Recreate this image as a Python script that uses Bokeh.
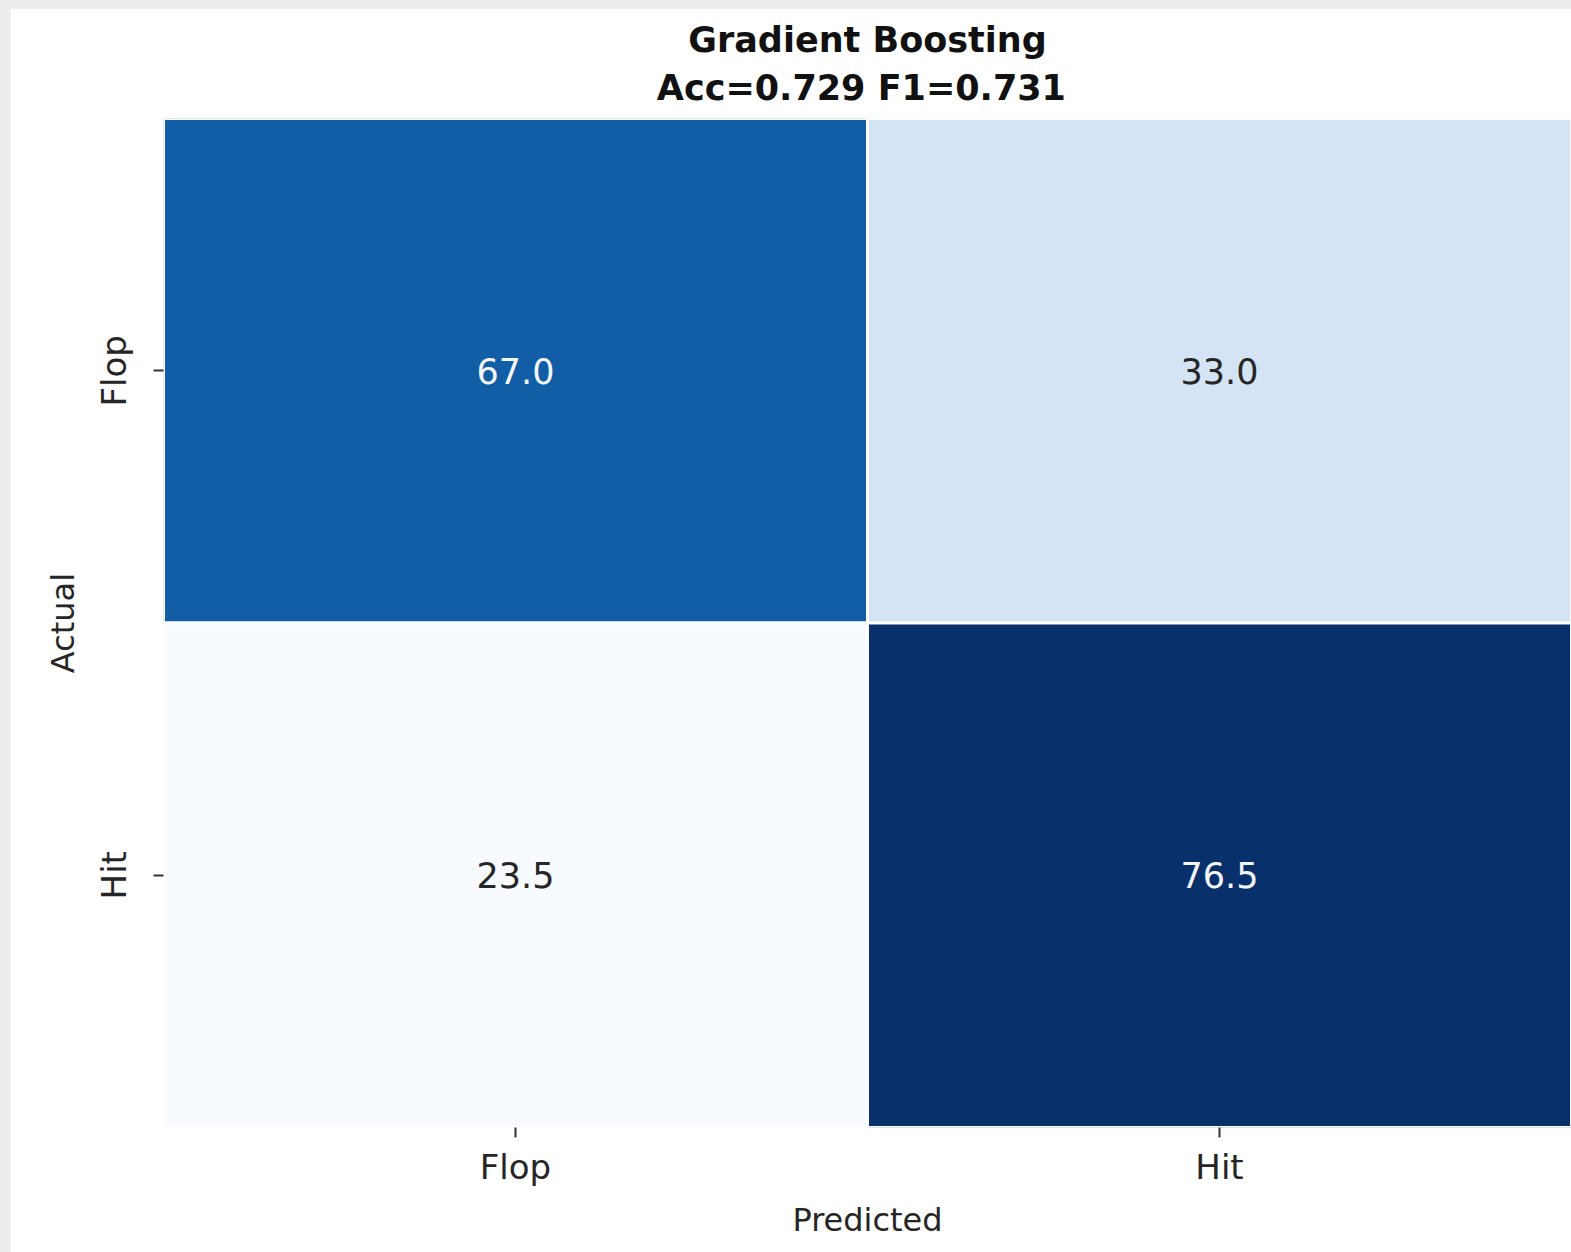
from bokeh.plotting import figure
from bokeh.models import ColumnDataSource, FactorRange, Title, Spacer
from bokeh.layouts import column, row
from bokeh.palettes import Blues256
from bokeh.transform import linear_cmap
from bokeh.core.properties import value
from bokeh.embed import file_html
from bokeh.resources import INLINE

# ---- data ----
classes = ["Flop", "Hit"]
actual = ["Flop", "Flop", "Hit", "Hit"]
predicted = ["Flop", "Hit", "Flop", "Hit"]
values = [67.0, 33.0, 23.5, 76.5]
title_line1 = "Gradient Boosting"
title_line2 = "Acc=0.729  F1=0.731"
x_label = "Predicted"
y_label = "Actual"

vmin, vmax = min(values), max(values)
labels = [f"{v:.1f}" for v in values]
text_colors = ["#f4f6fa" if (v - vmin) / (vmax - vmin) > 0.6 else "#262626" for v in values]

src = ColumnDataSource(dict(act=actual, pred=predicted, val=values,
                            label=labels, tcolor=text_colors))

FONT = "DejaVu Sans"

p = figure(width=1561, height=1244,
           x_range=FactorRange(factors=classes),
           y_range=FactorRange(factors=classes[::-1]),
           output_backend="svg", toolbar_location=None,
           min_border_left=153, min_border_right=0,
           min_border_top=110, min_border_bottom=125)

p.rect(x="pred", y="act", width=1, height=1, source=src,
       fill_color=linear_cmap("val", list(Blues256[::-1]), vmin, vmax),
       line_color="white", line_width=3)

p.text(x="pred", y="act", text="label", source=src,
       text_align="center", text_baseline="middle",
       text_font=value(FONT), text_font_size="35px", text_color="tcolor")

# titles (second line nearest the frame)
t2 = Title(text=title_line2, align="center", text_font=FONT,
           text_font_size="35px", text_font_style="bold", text_color="#111111",
           standoff=22)
t1 = Title(text=title_line1, align="center", text_font=FONT,
           text_font_size="35px", text_font_style="bold", text_color="#111111",
           standoff=0)
try:
    t1.standoff = -10
except ValueError:
    t1.standoff = 0
p.add_layout(t2, "above")
p.add_layout(t1, "above")

p.grid.visible = False
p.outline_line_color = None
p.background_fill_color = "white"
p.border_fill_color = "white"

for ax in (p.xaxis, p.yaxis):
    ax.axis_line_color = None
    ax.major_tick_out = 10
    ax.major_tick_in = 0
    ax.major_tick_line_color = "#333333"
    ax.major_tick_line_width = 2
    ax.minor_tick_line_color = None
    ax.major_label_text_font = FONT
    ax.major_label_text_font_size = "34px"
    ax.major_label_text_color = "#262626"
    ax.axis_label_text_font = FONT
    ax.axis_label_text_font_size = "32px"
    ax.axis_label_text_font_style = "normal"
    ax.axis_label_text_color = "#262626"

p.xaxis.axis_label = x_label
p.yaxis.axis_label = y_label
p.xaxis.major_label_standoff = 9
p.xaxis.axis_label_standoff = 11
p.yaxis.major_label_orientation = "vertical"
p.yaxis.major_label_standoff = 20
p.yaxis.axis_label_standoff = 9

layout = column(Spacer(height=8, width=1571),
                row(Spacer(width=10, height=1244), p),
                styles={"background-color": "#ededed"})

open("out.html", "w").write(file_html(layout, INLINE))
